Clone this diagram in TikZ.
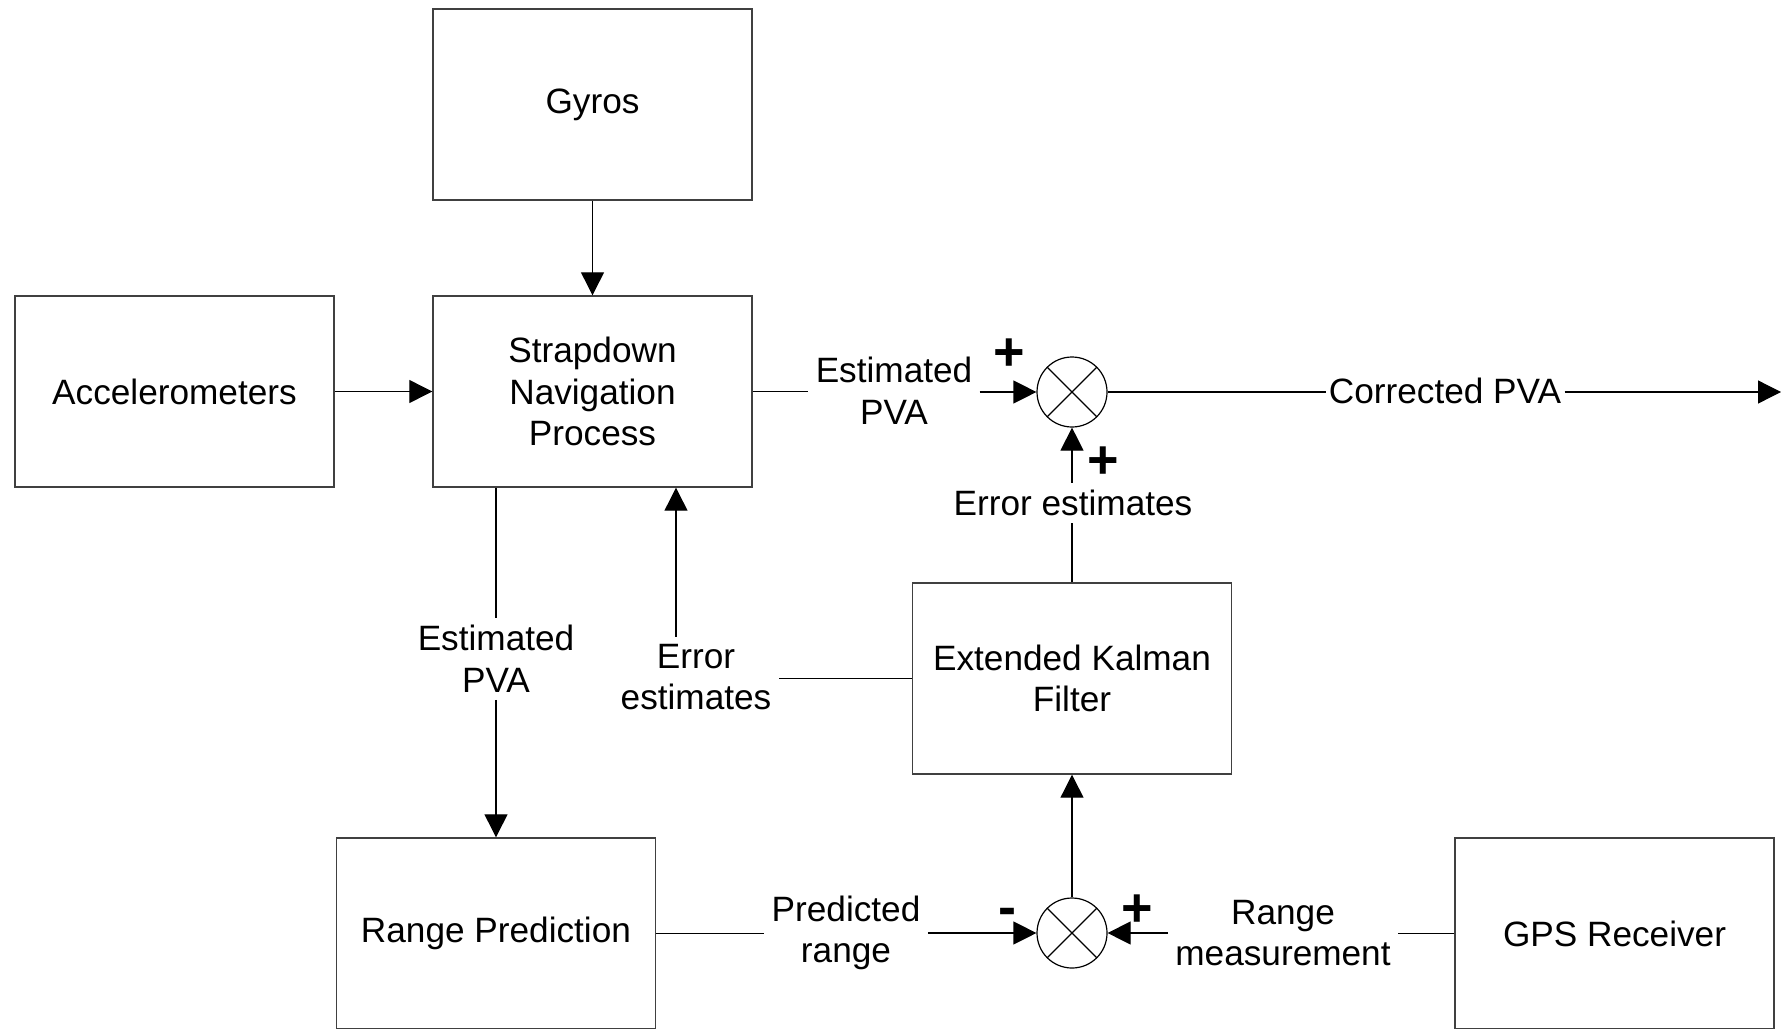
\documentclass[tikz,border=0pt]{standalone}
\usepackage{fontspec}
\setmainfont{Liberation Sans}
\usetikzlibrary{arrows.meta}
\begin{document}
\begin{tikzpicture}[x=0.5pt,y=-0.5pt,
  txt/.style={font=\fontsize{17.6pt}{20.8pt}\selectfont},
  box/.style={txt,draw=black!75,line width=0.7pt,minimum width=159.5pt,minimum height=95.5pt,align=center,inner sep=0pt},
  lbl/.style={txt,align=center,inner sep=3.5pt},
  sgn/.style={font=\fontsize{27pt}{27pt}\selectfont\bfseries,inner sep=0pt},
  sumnode/.style={circle,draw,line width=0.6pt,minimum size=35pt,inner sep=0pt,
    path picture={\draw[line width=0.6pt] (path picture bounding box.south west)--(path picture bounding box.north east)
      (path picture bounding box.north west)--(path picture bounding box.south east);}},
  conn/.style={line width=0.6pt},
  arr/.style={conn,-{Triangle[length=11.5pt,width=11.5pt]}}
]
\clip (0,0) rectangle (1781,1028);
% boxes
\node[box] (gyros) at (592.5,104.5) {Gyros};
\node[box] (accel) at (174.5,391.5) {Accelerometers};
\node[box] (strap) at (592.5,391.5) {Strapdown\\Navigation\\Process};
\node[box] (ekf) at (1072,678.5) {Extended Kalman\\Filter};
\node[box] (rp) at (496,933.5) {Range Prediction};
\node[box] (gps) at (1614.5,933.5) {GPS Receiver};
% summing junctions
\node[sumnode] (s1) at (1072,392) {};
\node[sumnode] (s2) at (1072,933) {};
% labels
\node[lbl] (l1) at (894,391) {Estimated\\PVA};
\node[lbl,inner xsep=1.5pt] (l2) at (1445,391) {Corrected PVA};
\node[lbl] (l3) at (1073,503) {Error estimates};
\node[lbl] (l4) at (496,659) {Estimated\\PVA};
\node[lbl] (l5) at (696,677) {Error\\estimates};
\node[lbl] (l6) at (846,933) {Predicted\\range};
\node[lbl] (l7) at (1283,933) {Range\\measurement};
% signs
\node[sgn] (p1) at (1009,355) {+};
\node[sgn] (p2) at (1103,463) {+};
\node[sgn] (m3) at (1007,917) {-};
\node[sgn] (p4) at (1137,911) {+};
\coordinate (out) at (1781,392);
\coordinate (fbx) at (676,0);
% connectors
\draw[arr] (gyros.south) -- (strap.north);
\draw[arr] (accel.east) -- (strap.west);
\draw[conn] (strap.east) -- (l1.west |- strap.east);
\draw[arr] (l1.east |- s1.west) -- (s1.west);
\draw[conn] (s1.east) -- (l2.west |- s1.east);
\draw[arr] (l2.east |- s1.east) -- (out);
\draw[conn] (ekf.north) -- (l3.south -| ekf.north);
\draw[arr] (l3.north -| s1.south) -- (s1.south);
\draw[conn] (strap.south -| l4.north) -- (l4.north);
\draw[arr] (l4.south) -- (rp.north);
\draw[conn] (ekf.west) -- (ekf.west -| l5.east);
\draw[arr] (l5.north -| fbx) -- (strap.south -| fbx);
\draw[conn] (rp.east) -- (rp.east -| l6.west);
\draw[arr] (l6.east |- s2.west) -- (s2.west);
\draw[conn] (gps.west) -- (gps.west -| l7.east);
\draw[arr] (l7.west |- s2.east) -- (s2.east);
\draw[arr] (s2.north) -- (ekf.south);
\end{tikzpicture}
\end{document}
